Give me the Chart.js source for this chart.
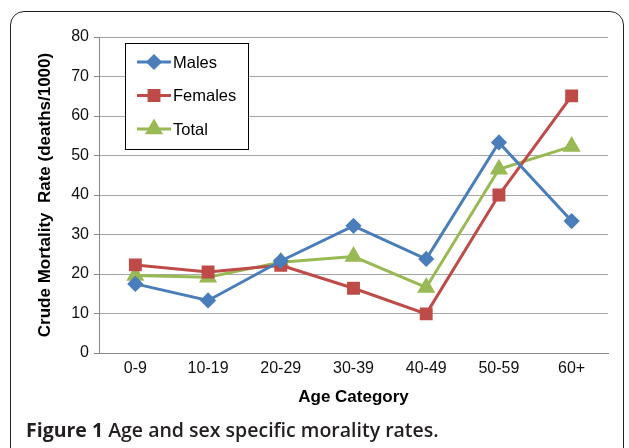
<!DOCTYPE html>
<html>
<head>
<meta charset="utf-8">
<script src="https://cdn.jsdelivr.net/npm/chart.js@4.4.1/dist/chart.umd.min.js"></script>
<style>
  html, body { margin: 0; padding: 0; background: #fff; }
  #wrap { position: relative; width: 629px; height: 448px; overflow: hidden; }
  #frame {
    position: absolute; left: 10px; top: 11px; width: 614px; height: 460px;
    border: 1.5px solid #222; border-radius: 14px; box-sizing: border-box;
  }
  #caption {
    position: absolute; left: 26px; top: 416px; white-space: nowrap;
    font-family: "Open Sans", sans-serif; font-size: 19.5px; font-weight: 600; color: #231f20;
  }
  #caption b { font-weight: 700; }
  canvas { position: absolute; left: 0; top: 0; }
</style>
</head>
<body>
<div id="wrap">
  <div id="frame"></div>
  <canvas id="chart" width="629" height="448"></canvas>
  <div id="caption"><b>Figure 1</b> Age and sex specific morality rates.</div>
</div>
<script>
const categories = ["0-9", "10-19", "20-29", "30-39", "40-49", "50-59", "60+"];
const males = [17.5, 13.3, 23.3, 32.2, 23.8, 53.3, 33.4];
const females = [22.3, 20.5, 22.2, 16.4, 9.9, 40.0, 65.1];
const total = [19.6, 19.2, 23.0, 24.4, 16.6, 46.5, 52.3];

const FONT = "'Liberation Sans', Arial, sans-serif";

// legend box drawn inside the plot area, like the original
const boxLegend = {
  id: "boxLegend",
  afterDraw(chart) {
    const ctx = chart.ctx;
    const x = 125, y = 43, w = 123, h = 106;
    ctx.save();
    ctx.fillStyle = "#fff";
    ctx.fillRect(x, y, w, h);
    ctx.strokeStyle = "#000";
    ctx.lineWidth = 1;
    ctx.strokeRect(x + 0.5, y + 0.5, w, h);
    ctx.font = "16.5px " + FONT;
    ctx.textBaseline = "middle";
    chart.data.datasets.forEach((ds, i) => {
      const cy = y + 19 + i * 33.5;
      ctx.strokeStyle = ds.borderColor;
      ctx.lineWidth = 3;
      ctx.beginPath();
      ctx.moveTo(137, cy);
      ctx.lineTo(171, cy);
      ctx.stroke();
      ctx.fillStyle = ds.pointBackgroundColor;
      ctx.strokeStyle = ds.pointBackgroundColor;
      Chart.helpers.drawPoint(ctx, {
        pointStyle: ds.pointStyle, radius: ds.pointRadius, borderWidth: 1
      }, 154, cy);
      ctx.fillStyle = "#000";
      ctx.fillText(ds.label, 173, cy + 1);
    });
    ctx.restore();
  }
};

const ctx = document.getElementById("chart").getContext("2d");
new Chart(ctx, {
  type: "line",
  data: {
    labels: categories,
    datasets: [
      {
        label: "Males", data: males,
        borderColor: "#4a7ebb", backgroundColor: "#4a7ebb",
        pointBackgroundColor: "#4a7ebb", pointBorderColor: "#4a7ebb",
        pointStyle: "rectRot", pointRadius: 6, borderWidth: 3
      },
      {
        label: "Females", data: females,
        borderColor: "#be4b48", backgroundColor: "#be4b48",
        pointBackgroundColor: "#be4b48", pointBorderColor: "#be4b48",
        pointStyle: "rect", pointRadius: 7, borderWidth: 3
      },
      {
        label: "Total", data: total,
        borderColor: "#98b954", backgroundColor: "#98b954",
        pointBackgroundColor: "#98b954", pointBorderColor: "#98b954",
        pointStyle: "triangle", pointRadius: 7.5, borderWidth: 3
      }
    ]
  },
  options: {
    responsive: false,
    animation: false,
    layout: { padding: { left: 35, right: 21, top: 37, bottom: 40 } },
    plugins: {
      legend: { display: false },
      tooltip: { enabled: false }
    },
    scales: {
      x: {
        offset: true,
        grid: { display: false, drawTicks: false },
        border: { color: "#888", width: 1 },
        ticks: { color: "#111", padding: 6, font: { family: FONT, size: 16 } },
        title: {
          display: true, text: "Age Category", color: "#000", padding: 0,
          font: { family: FONT, size: 17, weight: "bold" }
        },
        afterFit(s) { s.height = 55; }
      },
      y: {
        min: 0, max: 80,
        ticks: { stepSize: 10, color: "#111", padding: 5, font: { family: FONT, size: 16 } },
        grid: { color: "#a6a6a6", tickLength: 5, tickColor: "#888" },
        border: { color: "#888", width: 1 },
        title: {
          display: true, text: "Crude Mortality  Rate (deaths/1000)", color: "#000", padding: 0,
          font: { family: FONT, size: 17, weight: "bold" }
        },
        afterFit(s) { s.width = 64; }
      }
    }
  },
  plugins: [boxLegend]
});
</script>
</body>
</html>
